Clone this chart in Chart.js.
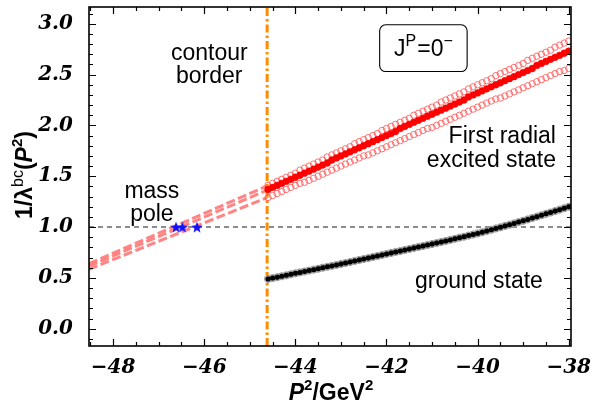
<!DOCTYPE html>
<html><head><meta charset="utf-8">
<script src="https://cdn.jsdelivr.net/npm/chart.js@4.4.0/dist/chart.umd.min.js"></script>
<style>html,body{margin:0;padding:0;background:#fff;}#wrap{width:595px;height:408px;}</style>
</head><body><div id="wrap"><canvas id="c" width="595" height="408"></canvas></div>
<script>
// ---- data ----
const xGrid = [-44.6,-44.5,-44.4,-44.3,-44.2,-44.1,-44.0,-43.9,-43.8,-43.7,-43.6,-43.5,-43.4,-43.3,-43.2,-43.1,-43.0,-42.9,-42.8,-42.7,-42.6,-42.5,-42.4,-42.3,-42.2,-42.1,-42.0,-41.9,-41.8,-41.7,-41.6,-41.5,-41.4,-41.3,-41.2,-41.1,-41.0,-40.9,-40.8,-40.7,-40.6,-40.5,-40.4,-40.3,-40.2,-40.1,-40.0,-39.9,-39.8,-39.7,-39.6,-39.5,-39.4,-39.3,-39.2,-39.1,-39.0,-38.9,-38.8,-38.7,-38.6,-38.5,-38.4,-38.3,-38.2,-38.1,-38.0];
const groundState = [0.490,0.498,0.507,0.516,0.525,0.535,0.545,0.554,0.563,0.572,0.581,0.590,0.600,0.609,0.618,0.627,0.637,0.646,0.656,0.666,0.676,0.686,0.695,0.705,0.715,0.725,0.735,0.745,0.755,0.764,0.774,0.784,0.794,0.804,0.813,0.823,0.833,0.843,0.853,0.863,0.874,0.884,0.895,0.905,0.916,0.926,0.937,0.949,0.961,0.973,0.986,0.998,1.011,1.023,1.036,1.049,1.062,1.075,1.089,1.102,1.116,1.130,1.143,1.157,1.171,1.185,1.199];
const excitedCentral = [1.37,1.39,1.41,1.43,1.45,1.47,1.49,1.51,1.53,1.55,1.57,1.59,1.61,1.63,1.66,1.68,1.70,1.72,1.74,1.76,1.78,1.80,1.82,1.84,1.86,1.88,1.90,1.92,1.94,1.97,1.99,2.01,2.03,2.05,2.07,2.09,2.11,2.13,2.15,2.17,2.19,2.21,2.23,2.25,2.28,2.30,2.32,2.34,2.36,2.38,2.40,2.42,2.44,2.46,2.48,2.50,2.52,2.54,2.56,2.59,2.61,2.63,2.65,2.67,2.69,2.71,2.73];
const excitedUpper = [1.41,1.43,1.45,1.47,1.49,1.51,1.53,1.56,1.58,1.60,1.62,1.64,1.66,1.69,1.71,1.73,1.75,1.77,1.79,1.82,1.84,1.86,1.88,1.90,1.92,1.95,1.97,1.99,2.01,2.03,2.05,2.07,2.10,2.12,2.14,2.16,2.18,2.20,2.23,2.25,2.27,2.29,2.31,2.33,2.36,2.38,2.40,2.42,2.44,2.46,2.49,2.51,2.53,2.55,2.57,2.59,2.61,2.64,2.66,2.68,2.70,2.72,2.74,2.77,2.79,2.81,2.83];
const excitedLower = [1.29,1.31,1.33,1.35,1.37,1.39,1.41,1.43,1.44,1.46,1.48,1.50,1.52,1.54,1.56,1.58,1.60,1.62,1.64,1.66,1.68,1.70,1.71,1.73,1.75,1.77,1.79,1.81,1.83,1.85,1.87,1.89,1.91,1.93,1.95,1.97,1.98,2.00,2.02,2.04,2.06,2.08,2.10,2.12,2.14,2.16,2.18,2.20,2.22,2.24,2.26,2.27,2.29,2.31,2.33,2.35,2.37,2.39,2.41,2.43,2.45,2.47,2.49,2.51,2.53,2.54,2.56];
const extrapX = [-48.53, -44.62];
const extrapUpper = [0.64, 1.405];
const extrapCentral = [0.615, 1.363];
const extrapLower = [0.585, 1.29];
const poleX = [-46.62, -46.48, -46.16];
const poleY = [1.0, 1.0, 1.0];
const contourBorderX = -44.62;
const unitLine = 1.0;
const xTickLabels = [-48, -46, -44, -42, -40, -38];
const yTickLabels = [0.0, 0.5, 1.0, 1.5, 2.0, 2.5, 3.0];

const X_MIN = -48.53, X_MAX = -37.95, Y_MIN = -0.17, Y_MAX = 3.165;

const pts = (xs, ys) => xs.map((x, i) => ({x, y: ys[i]}));

function makeStar(size, color) {
  const c = document.createElement('canvas');
  c.width = c.height = size;
  const g = c.getContext('2d');
  g.fillStyle = color;
  g.beginPath();
  const cx = size / 2, cy = size / 2 + 0.6, R = size / 2, r = R * 0.42;
  for (let i = 0; i < 10; i++) {
    const a = -Math.PI / 2 + i * Math.PI / 5;
    const rad = i % 2 ? r : R;
    const px = cx + rad * Math.cos(a), py = cy + rad * Math.sin(a);
    i ? g.lineTo(px, py) : g.moveTo(px, py);
  }
  g.closePath();
  g.fill();
  return c;
}
const starImg = makeStar(12, '#1010ff');

const SANS = '"Liberation Sans", Arial, sans-serif';

function drawRich(ctx, parts, x, y, align, rotate) {
  ctx.save();
  ctx.translate(x, y);
  if (rotate) ctx.rotate(-Math.PI / 2);
  ctx.textBaseline = 'alphabetic';
  ctx.textAlign = 'left';
  let w = 0;
  parts.forEach(p => { ctx.font = p.font; p.w = ctx.measureText(p.t).width; w += p.w + (p.gap || 0); });
  let cx = align === 'center' ? -w / 2 : (align === 'right' ? -w : 0);
  parts.forEach(p => {
    ctx.font = p.font;
    ctx.fillText(p.t, cx, p.dy || 0);
    cx += p.w + (p.gap || 0);
  });
  ctx.restore();
}

const deco = {
  id: 'deco',
  afterDraw(chart) {
    const {ctx, chartArea: a, scales: {x, y}} = chart;
    ctx.save();
    ctx.fillStyle = '#000';
    ctx.strokeStyle = '#000';
    // ticks (inward, all four sides)
    ctx.lineWidth = 1.2;
    ctx.beginPath();
    for (let k = -97; k <= -76; k++) {
      const v = k / 2;
      if (v < X_MIN || v > X_MAX) continue;
      const px = Math.round(x.getPixelForValue(v)) + 0.5;
      const major = xTickLabels.includes(v);
      const L = major ? 7 : 4;
      ctx.moveTo(px, a.bottom); ctx.lineTo(px, a.bottom - L);
      ctx.moveTo(px, a.top); ctx.lineTo(px, a.top + L);
    }
    for (let k = -1; k <= 31; k++) {
      const v = k / 10;
      if (v < Y_MIN || v > Y_MAX) continue;
      const py = Math.round(y.getPixelForValue(v)) + 0.5;
      const major = k % 5 === 0;
      const L = major ? 7 : 4;
      ctx.moveTo(a.left, py); ctx.lineTo(a.left + L, py);
      ctx.moveTo(a.right, py); ctx.lineTo(a.right - L, py);
    }
    ctx.stroke();
    // frame
    ctx.lineWidth = 1.6;
    ctx.strokeRect(a.left, a.top, a.right - a.left, a.bottom - a.top);

    // axis titles
    drawRich(ctx, [
      {t: '1/λ', font: 'bold 23px ' + SANS},
      {t: 'bc', font: '16px ' + SANS, dy: -9},
      {t: '(', font: 'bold 23px ' + SANS, gap: 0},
      {t: 'P', font: 'italic bold 23px ' + SANS},
      {t: '2', font: 'bold 15px ' + SANS, dy: -10},
      {t: ')', font: 'bold 23px ' + SANS}
    ], 32, 175, 'center', true);
    drawRich(ctx, [
      {t: 'P', font: 'italic bold 23px ' + SANS},
      {t: '2', font: 'bold 15px ' + SANS, dy: -10},
      {t: '/GeV', font: 'bold 23px ' + SANS},
      {t: '2', font: 'bold 15px ' + SANS, dy: -10}
    ], 331, 400, 'center', false);

    // annotations (positioned in data coordinates)
    const X = v => x.getPixelForValue(v), Y = v => y.getPixelForValue(v);
    const f = '23px ' + SANS;
    drawRich(ctx, [{t: 'contour', font: f}], X(-45.89), Y(2.647), 'center');
    drawRich(ctx, [{t: 'border', font: f}], X(-45.89), Y(2.418), 'center');
    drawRich(ctx, [{t: 'mass', font: f}], X(-47.15), Y(1.284), 'center');
    drawRich(ctx, [{t: 'pole', font: f}], X(-47.15), Y(1.055), 'center');
    drawRich(ctx, [{t: 'First radial', font: f}], X(-38.28), Y(1.829), 'right');
    drawRich(ctx, [{t: 'excited state', font: f}], X(-38.28), Y(1.594), 'right');
    drawRich(ctx, [{t: 'ground state', font: f}], X(-39.97), Y(0.402), 'center');

    // J^P = 0^- box
    const bx0 = X(-42.15), bx1 = X(-40.23), by0 = Y(2.99), by1 = Y(2.53);
    ctx.lineWidth = 1.1;
    ctx.beginPath();
    ctx.roundRect(bx0, by0, bx1 - bx0, by1 - by0, 6);
    ctx.stroke();
    drawRich(ctx, [
      {t: 'J', font: f},
      {t: 'P', font: '16px ' + SANS, dy: -10, gap: 1},
      {t: '=0', font: f},
      {t: '−', font: '16px ' + SANS, dy: -10}
    ], (bx0 + bx1) / 2, Y(2.68), 'center');
    ctx.restore();
  }
};

const tickFont = {family: '"DejaVu Serif", "Liberation Serif", serif', size: 20, style: 'italic', weight: 'bold'};

new Chart(document.getElementById('c'), {
  type: 'scatter',
  data: {
    datasets: [
      {label: 'mass pole', data: pts(poleX, poleY), pointStyle: starImg, pointRadius: 6, showLine: false, order: 0},
      {label: 'excited central', data: pts(xGrid, excitedCentral), pointStyle: 'circle', pointRadius: 3.4,
        pointBackgroundColor: '#ff0000', pointBorderColor: '#ff0000', pointBorderWidth: 0.5, showLine: false, order: 1},
      {label: 'excited upper', data: pts(xGrid, excitedUpper), pointStyle: 'circle', pointRadius: 3.2,
        pointBackgroundColor: 'rgba(255,255,255,0)', pointBorderColor: 'rgba(255,80,80,0.8)', pointBorderWidth: 1, showLine: false, order: 2},
      {label: 'excited lower', data: pts(xGrid, excitedLower), pointStyle: 'circle', pointRadius: 3.2,
        pointBackgroundColor: 'rgba(255,255,255,0)', pointBorderColor: 'rgba(255,80,80,0.8)', pointBorderWidth: 1, showLine: false, order: 3},
      {label: 'ground', data: pts(xGrid, groundState), pointStyle: 'circle', pointRadius: 2.5,
        pointBackgroundColor: '#000', pointBorderColor: '#000', pointBorderWidth: 0.5, showLine: false, order: 4},
      {label: 'ground band', data: pts(xGrid, groundState), pointStyle: 'circle', pointRadius: 3.6,
        pointBackgroundColor: '#fff', pointBorderColor: '#8a8a8a', pointBorderWidth: 0.9, showLine: false, order: 5},
      {label: 'extrap upper', data: pts(extrapX, extrapUpper), showLine: true, pointRadius: 0,
        borderColor: 'rgba(255,110,110,0.85)', borderWidth: 3, borderDash: [9, 3.5], order: 6},
      {label: 'extrap central', data: pts(extrapX, extrapCentral), showLine: true, pointRadius: 0,
        borderColor: 'rgba(255,110,110,0.85)', borderWidth: 3, borderDash: [9, 3.5], order: 7},
      {label: 'extrap lower', data: pts(extrapX, extrapLower), showLine: true, pointRadius: 0,
        borderColor: 'rgba(255,110,110,0.85)', borderWidth: 3, borderDash: [9, 3.5], order: 8},
      {label: 'unit line', data: [{x: X_MIN, y: unitLine}, {x: X_MAX, y: unitLine}], showLine: true, pointRadius: 0,
        borderColor: '#8c8c8c', borderWidth: 2, borderDash: [5, 4], order: 9},
      {label: 'contour border', data: [{x: contourBorderX, y: Y_MIN}, {x: contourBorderX, y: Y_MAX}], showLine: true, pointRadius: 0,
        borderColor: '#ff8c00', borderWidth: 3, borderDash: [8, 3, 2.5, 3], order: 10}
    ]
  },
  options: {
    responsive: false,
    animation: false,
    devicePixelRatio: 1,
    layout: {padding: {top: 6, right: 24, left: 0, bottom: 0}},
    plugins: {legend: {display: false}, tooltip: {enabled: false}},
    scales: {
      x: {
        type: 'linear', min: X_MIN, max: X_MAX,
        grid: {display: false}, border: {display: false},
        afterBuildTicks: s => { s.ticks = xTickLabels.map(v => ({value: v})); },
        afterFit: s => { s.height = 62; s.paddingLeft = 0; s.paddingRight = 0; },
        ticks: {autoSkip: false, maxRotation: 0, padding: 2, color: '#000', font: tickFont,
          callback: v => (v < 0 ? '−' : '') + Math.abs(v)}
      },
      y: {
        type: 'linear', min: Y_MIN, max: Y_MAX,
        grid: {display: false}, border: {display: false},
        afterBuildTicks: s => { s.ticks = yTickLabels.map(v => ({value: v})); },
        afterFit: s => { s.width = 89; s.paddingTop = 0; s.paddingBottom = 0; },
        ticks: {autoSkip: false, padding: 8, color: '#000', font: tickFont,
          callback: v => Number(v).toFixed(1)}
      }
    }
  },
  plugins: [deco]
});
</script>
</body></html>
